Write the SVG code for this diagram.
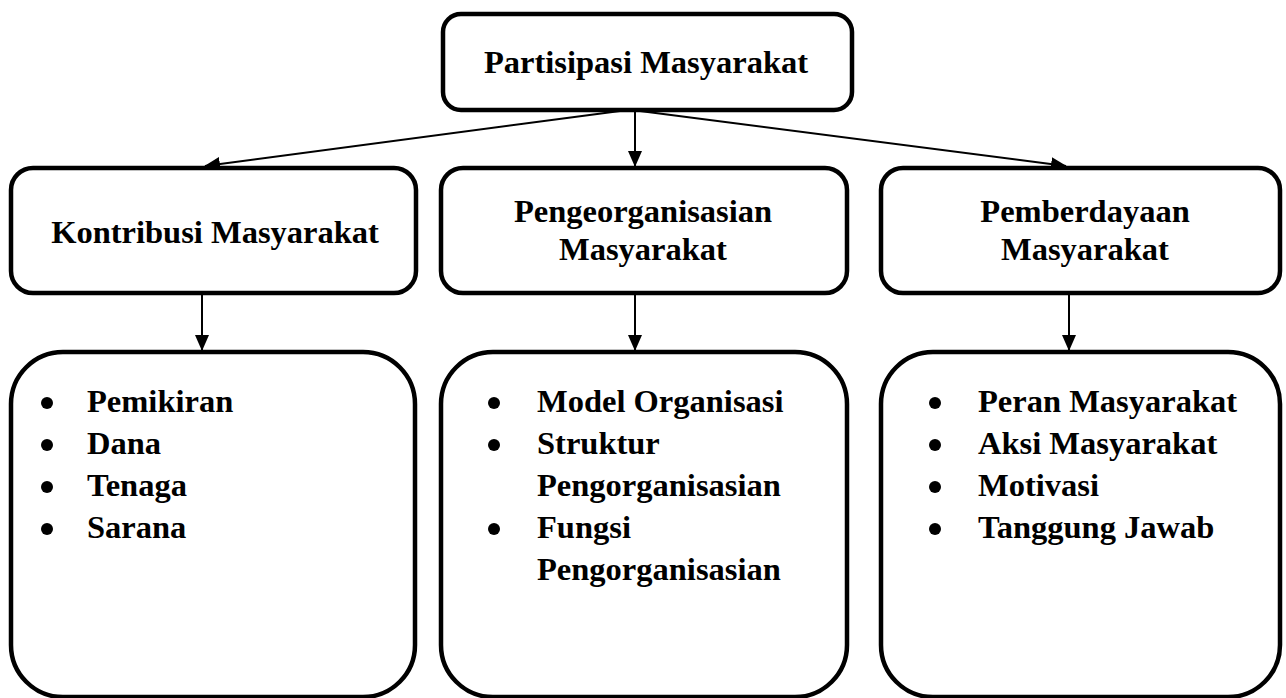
<svg xmlns="http://www.w3.org/2000/svg" width="1286" height="698" viewBox="0 0 1286 698">
<style>
.box{fill:#fff;stroke:#000;stroke-width:4.5}
.t{font-family:"Liberation Serif","Times New Roman",serif;font-weight:bold;font-size:32.5px;fill:#000}
.c{text-anchor:middle}
.con{stroke:#000;stroke-width:2;fill:none}
</style>
<defs>
<marker id="ah" markerUnits="userSpaceOnUse" markerWidth="16" markerHeight="14" refX="15" refY="7" orient="auto">
<path d="M0,0 L16,7 L0,14 z" fill="#000"/>
</marker>
</defs>
<rect width="1286" height="698" fill="#fff"/>
<g id="connectors">
<line class="con" x1="620" y1="111" x2="205" y2="166" marker-end="url(#ah)"/>
<line class="con" x1="635" y1="111" x2="635" y2="166" marker-end="url(#ah)"/>
<line class="con" x1="640" y1="111" x2="1066" y2="166" marker-end="url(#ah)"/>
<line class="con" x1="202" y1="295" x2="202" y2="350" marker-end="url(#ah)"/>
<line class="con" x1="635" y1="295" x2="635" y2="350" marker-end="url(#ah)"/>
<line class="con" x1="1069" y1="295" x2="1069" y2="350" marker-end="url(#ah)"/>
</g>
<g id="n-partisipasi">
<rect class="box" x="443" y="14" width="409" height="96" rx="18"/>
<text class="t c" x="646" y="73">Partisipasi Masyarakat</text>
</g>
<g id="n-kontribusi">
<rect class="box" x="11" y="168" width="405" height="125" rx="22"/>
<text class="t c" x="215" y="243">Kontribusi Masyarakat</text>
</g>
<g id="n-pengeorganisasian">
<rect class="box" x="441" y="168" width="406" height="125" rx="22"/>
<text class="t c" x="643" y="222">Pengeorganisasian</text>
<text class="t c" x="643" y="260">Masyarakat</text>
</g>
<g id="n-pemberdayaan">
<rect class="box" x="881" y="168" width="399" height="125" rx="22"/>
<text class="t c" x="1085" y="222">Pemberdayaan</text>
<text class="t c" x="1085" y="260">Masyarakat</text>
</g>
<g id="n-kontribusi-list">
<rect class="box" x="11" y="352" width="404" height="345" rx="52"/>
<circle cx="47" cy="403" r="6"/><circle cx="47" cy="445" r="6"/><circle cx="47" cy="487" r="6"/><circle cx="47" cy="529" r="6"/>
<text class="t" x="87" y="412">Pemikiran</text>
<text class="t" x="87" y="454">Dana</text>
<text class="t" x="87" y="496">Tenaga</text>
<text class="t" x="87" y="538">Sarana</text>
</g>
<g id="n-pengorganisasian-list">
<rect class="box" x="441" y="352" width="406" height="345" rx="52"/>
<circle cx="494" cy="403" r="6"/><circle cx="494" cy="445" r="6"/><circle cx="494" cy="529" r="6"/>
<text class="t" x="537" y="412">Model Organisasi</text>
<text class="t" x="537" y="454">Struktur</text>
<text class="t" x="537" y="496">Pengorganisasian</text>
<text class="t" x="537" y="538">Fungsi</text>
<text class="t" x="537" y="580">Pengorganisasian</text>
</g>
<g id="n-pemberdayaan-list">
<rect class="box" x="881" y="352" width="399" height="345" rx="52"/>
<circle cx="935" cy="403" r="6"/><circle cx="935" cy="445" r="6"/><circle cx="935" cy="487" r="6"/><circle cx="935" cy="529" r="6"/>
<text class="t" x="978" y="412">Peran Masyarakat</text>
<text class="t" x="978" y="454">Aksi Masyarakat</text>
<text class="t" x="978" y="496">Motivasi</text>
<text class="t" x="978" y="538">Tanggung Jawab</text>
</g>
</svg>
